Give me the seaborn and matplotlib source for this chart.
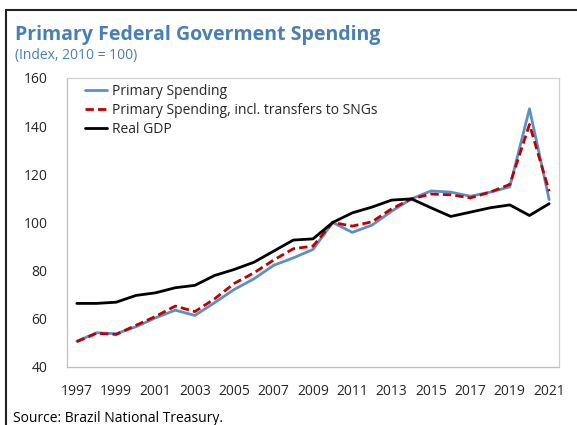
import matplotlib
matplotlib.use('Agg')
import matplotlib.pyplot as plt
import numpy as np
import pandas as pd
import seaborn as sns
from matplotlib.lines import Line2D

years = list(range(1997, 2022))
primary = [50.7, 54.2, 53.8, 56.7, 60.4, 63.6, 61.4, 66.7, 72.2, 76.6, 82.2, 85.3, 88.8,
           100.0, 95.9, 98.9, 104.7, 109.8, 113.1, 112.6, 110.9, 112.6, 114.8, 147.2, 109.5]
primary_sng = [50.5, 54.0, 53.5, 57.3, 61.0, 65.3, 63.0, 68.3, 74.7, 79.1, 84.4, 89.1, 90.2,
               100.0, 98.5, 100.3, 105.7, 109.8, 111.8, 111.5, 110.2, 112.6, 115.8, 140.7, 113.0]
real_gdp = [66.4, 66.4, 66.9, 69.7, 70.8, 72.9, 73.9, 78.0, 80.5, 83.5, 88.1, 92.7, 93.2,
            100.0, 104.0, 106.4, 109.3, 109.8, 106.1, 102.5, 104.3, 106.1, 107.3, 102.9, 107.8]
series_names = ['Primary Spending', 'Primary Spending, incl. transfers to SNGs', 'Real GDP']

df = pd.concat([
    pd.DataFrame({'Year': years, 'Index': primary, 'Series': series_names[0]}),
    pd.DataFrame({'Year': years, 'Index': primary_sng, 'Series': series_names[1]}),
    pd.DataFrame({'Year': years, 'Index': real_gdp, 'Series': series_names[2]}),
])

sns.set_style('white')
plt.rcParams['font.family'] = ['Open Sans', 'DejaVu Sans']

fig = plt.figure(figsize=(5.77, 4.25), dpi=100)
ax = fig.add_axes([0.1161, 0.1365, 0.8527, 0.68])

palette = {series_names[0]: '#5b90c2', series_names[1]: '#c00000', series_names[2]: '#000000'}
dashes = {series_names[0]: '', series_names[1]: (3.0, 1.5), series_names[2]: ''}
sns.lineplot(data=df, x='Year', y='Index', hue='Series', style='Series', palette=palette,
             dashes=dashes, linewidth=2.0, ax=ax)

ax.set_xlim(1996.5, 2021.5)
ax.set_ylim(40, 160)
ax.set_yticks(np.arange(40, 161, 20))
ax.set_xticks(years[::2])
ax.set_xticks(np.arange(1996.5, 2022, 1), minor=True)
ax.tick_params(axis='x', which='major', length=0, pad=12, labelsize=10)
ax.tick_params(axis='x', which='minor', direction='in', length=4, color='#bfbfbf', width=0.8)
ax.tick_params(axis='y', which='major', direction='in', length=4, color='#bfbfbf', width=0.8,
               labelsize=10, pad=14)
ax.set_xlabel('')
ax.set_ylabel('')
for s in ax.spines.values():
    s.set_color('#d0d0d0')
    s.set_linewidth(0.9)
ax.spines['left'].set_color('#bfbfbf')
ax.spines['bottom'].set_color('#bfbfbf')

ax.legend(loc='upper left', frameon=False, fontsize=10, handlelength=1.6,
          handletextpad=0.35, labelspacing=0.3, borderaxespad=0.0,
          bbox_to_anchor=(0.025, 1.0))

title_color = '#4a7fb5'
fig.text(0.026, 0.905, 'Primary Federal Goverment Spending', fontsize=14, fontweight='bold',
         color=title_color, va='baseline')
fig.text(0.026, 0.862, '(Index, 2010 = 100)', fontsize=10, color=title_color, va='baseline')
fig.text(0.022, 0.008, 'Source: Brazil National Treasury.', fontsize=10, color='#000000',
         va='baseline')

# outer frame (left and top edges visible)
fig.add_artist(Line2D([0.011, 0.011], [0.0, 0.977], color='#222222', linewidth=1.5,
                      transform=fig.transFigure))
fig.add_artist(Line2D([0.011, 1.0], [0.977, 0.977], color='#222222', linewidth=1.5,
                      transform=fig.transFigure))

fig.savefig('out.png', dpi=100)
